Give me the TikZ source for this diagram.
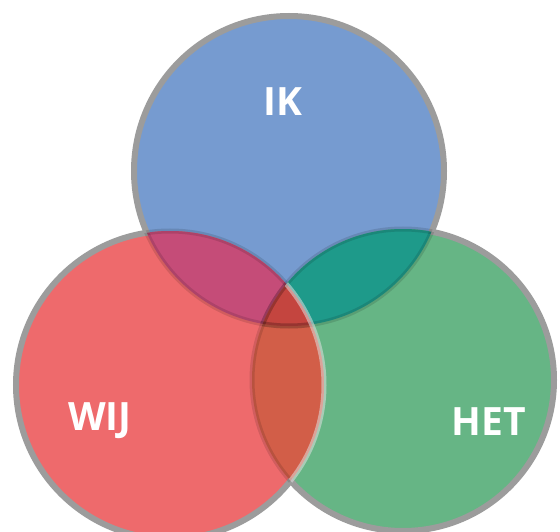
\documentclass[tikz,border=0pt]{standalone}
\usepackage{fontspec}
\setsansfont{Open Sans}
\definecolor{cblue}{RGB}{118,155,208}
\definecolor{cred}{RGB}{238,106,108}
\definecolor{cgreen}{RGB}{102,181,133}
\definecolor{cbr}{RGB}{197,76,120}
\definecolor{cbg}{RGB}{30,154,138}
\definecolor{crg}{RGB}{210,94,72}
\definecolor{call}{RGB}{196,69,63}
\definecolor{cring}{RGB}{156,156,156}
\tikzset{
  ring/.style={draw=cring, line width=6pt},
  innerdark/.style={draw=black, draw opacity=0.12, line width=5pt},
  innerlight/.style={draw=white!75!gray, draw opacity=0.55, line width=5pt},
  lbl/.style={text=white, font=\sffamily\bfseries\fontsize{39}{39}\selectfont, inner sep=0pt}
}
\begin{document}
\begin{tikzpicture}[x=1pt,y=1pt]
\def\circB{(289,-171) circle[radius=155pt]}
\def\circR{(170,-385) circle[radius=154pt]}
\def\circG{(403,-380) circle[radius=151pt]}
\def\bigbox{(-200,200) rectangle (800,-800)}
\useasboundingbox (0,0) rectangle (560,-532);
\begin{scope}
\clip (0,0) rectangle (560,-532);
\fill[white] (0,0) rectangle (560,-532);
% region fills
\fill[cblue] \circB;
\fill[cgreen] \circG;
\fill[cred] \circR;
\begin{scope}\clip \circB; \fill[cbg] \circG; \end{scope}
\begin{scope}\clip \circB; \fill[cbr] \circR; \end{scope}
\begin{scope}\clip \circR; \fill[crg] \circG; \end{scope}
\begin{scope}\clip \circB; \clip \circR; \fill[call] \circG; \end{scope}
% outer rings
\begin{scope}[even odd rule]
  \clip \bigbox \circR;
  \clip \bigbox \circG;
  \path[ring] \circB;
\end{scope}
\begin{scope}[even odd rule]
  \clip \bigbox \circB;
  \clip \bigbox \circR;
  \path[ring] \circG;
\end{scope}
\begin{scope}[even odd rule]
  \clip \bigbox \circB;
  \clip \bigbox \circG;
  \path[ring] \circR;
\end{scope}
% inner arcs
\begin{scope}\clip \circR; \path[innerdark] \circB; \end{scope}
\begin{scope}\clip \circG; \path[innerdark] \circB; \end{scope}
\begin{scope}\clip \circB; \path[innerdark] \circG; \end{scope}
\begin{scope}\clip \circR; \path[innerdark] \circG; \end{scope}
\begin{scope}[even odd rule]\clip \circB; \clip \bigbox \circG; \path[innerdark] \circR; \end{scope}
\begin{scope}\clip \circG; \path[innerlight] \circR; \end{scope}
\end{scope}
% labels
\node[lbl] (ik) at (283,-102) {IK};
\node[lbl] (wij) at (100,-421) {WIJ};
\node[lbl] (het) at (489,-422) {HET};
\end{tikzpicture}
\end{document}
